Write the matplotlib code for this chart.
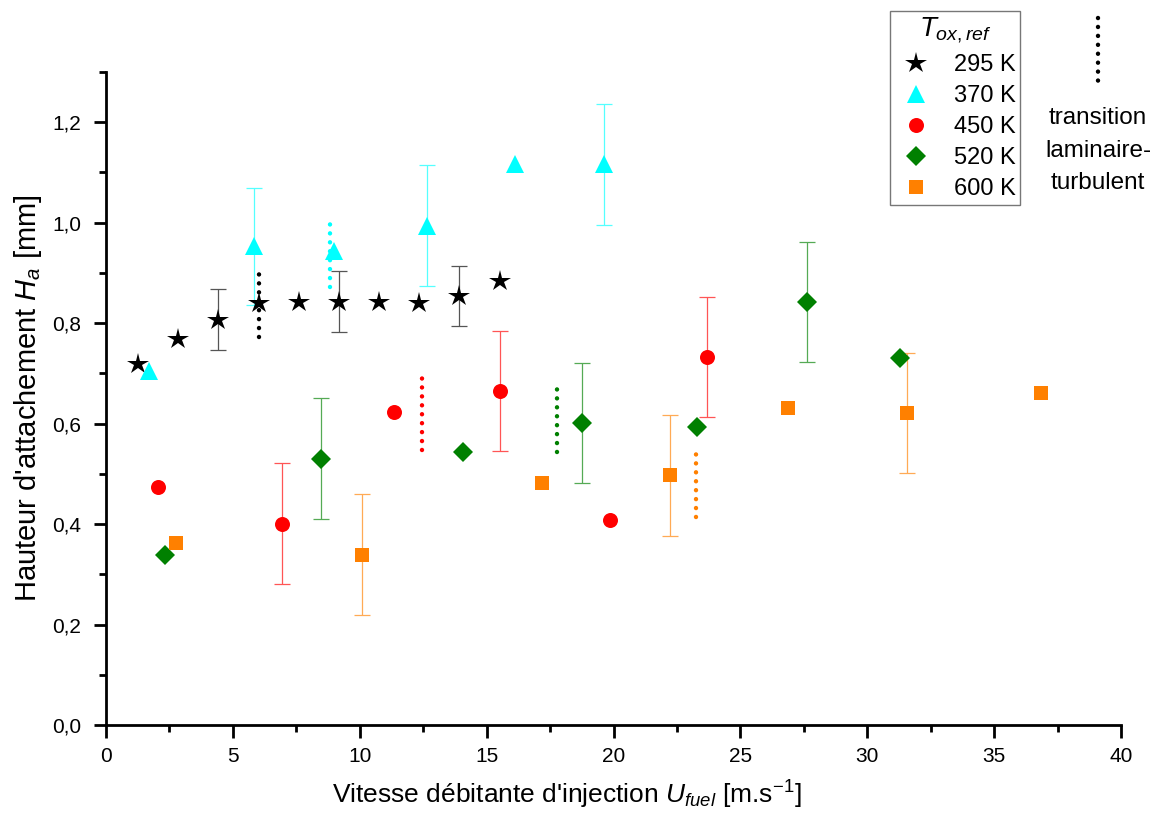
import numpy as np
import matplotlib
matplotlib.use("Agg")
import matplotlib.pyplot as plt
from matplotlib.lines import Line2D
from matplotlib.ticker import MultipleLocator, FuncFormatter

plt.rcParams['font.family'] = ['Liberation Sans', 'DejaVu Sans']
plt.rcParams['mathtext.fontset'] = 'custom'
plt.rcParams['mathtext.rm'] = 'Liberation Sans'
plt.rcParams['mathtext.it'] = 'Liberation Sans:italic'
plt.rcParams['mathtext.bf'] = 'Liberation Sans:bold'

# ---- data ----
labels = ["295 K", "370 K", "450 K", "520 K", "600 K"]

x_295 = [1.26, 2.84, 4.41, 6.02, 7.59, 9.18, 10.77, 12.35, 13.92, 15.51]
y_295 = [0.719, 0.769, 0.807, 0.840, 0.843, 0.843, 0.842, 0.841, 0.854, 0.883]
e_295 = [0, 0, 0.06, 0, 0, 0.06, 0, 0, 0.06, 0]

x_370 = [1.71, 5.83, 8.99, 12.65, 16.12, 19.63]
y_370 = [0.705, 0.953, 0.944, 0.994, 1.116, 1.116]
e_370 = [0, 0.117, 0, 0.12, 0, 0.12]

x_450 = [2.05, 6.95, 11.36, 15.53, 19.85, 23.70]
y_450 = [0.473, 0.401, 0.624, 0.665, 0.409, 0.733]
e_450 = [0, 0.12, 0, 0.12, 0, 0.12]

x_520 = [2.31, 8.46, 14.07, 18.76, 23.30, 27.63, 31.29]
y_520 = [0.338, 0.530, 0.544, 0.601, 0.593, 0.842, 0.731]
e_520 = [0, 0.12, 0, 0.12, 0, 0.12, 0]

x_600 = [2.75, 10.07, 17.17, 22.21, 26.86, 31.56, 36.86]
y_600 = [0.363, 0.339, 0.482, 0.497, 0.631, 0.621, 0.660]
e_600 = [0, 0.12, 0, 0.12, 0, 0.12, 0]

trans_x = [6.02, 8.83, 12.47, 17.76, 23.26]
trans_lo = [0.772, 0.871, 0.548, 0.544, 0.415]
trans_hi = [0.912, 1.011, 0.691, 0.683, 0.553]

# ---- style ----
series = [
    (x_295, y_295, e_295, '*', 16.0, '#000000', '#555555'),
    (x_370, y_370, e_370, '^', 13.0, '#00ffff', '#55ffff'),
    (x_450, y_450, e_450, 'o', 10.8, '#ff0000', '#ff5555'),
    (x_520, y_520, e_520, 'D', 9.7, '#008000', '#55aa55'),
    (x_600, y_600, e_600, 's', 9.7, '#ff8000', '#ffaa55'),
]
trans_colors = ['#000000', '#00ffff', '#ff0000', '#008000', '#ff8000']

fig = plt.figure(figsize=(11.6, 8.17), dpi=100)
ax = fig.add_axes([106/1160, 1-725/817, (1121-106)/1160, (725-72)/817])

handles = []
for (xs, ys, es, m, ms, c, ec), lab in zip(series, labels):
    xs = np.array(xs); ys = np.array(ys); es = np.array(es)
    mask = es > 0
    ax.errorbar(xs[mask], ys[mask], yerr=es[mask], fmt='none', ecolor=ec,
                elinewidth=0.9, capsize=6, capthick=0.9, zorder=2)
    h, = ax.plot(xs, ys, linestyle='none', marker=m, markersize=ms,
                 color=c, markeredgewidth=0, zorder=3, label=lab)
    handles.append(h)

for tx, lo, hi, c in zip(trans_x, trans_lo, trans_hi, trans_colors):
    ax.plot([tx, tx], [lo, hi], color=c, lw=3.2, linestyle=(0, (0.01, 2.0)),
            dash_capstyle='round', zorder=4)

ax.set_xlim(0, 40)
ax.set_ylim(0, 1.3)
ax.xaxis.set_major_locator(MultipleLocator(5))
ax.xaxis.set_minor_locator(MultipleLocator(2.5))
ax.yaxis.set_major_locator(MultipleLocator(0.2))
ax.yaxis.set_minor_locator(MultipleLocator(0.1))
ax.yaxis.set_major_formatter(FuncFormatter(lambda v, p: f"{v:.1f}".replace('.', ',')))
ax.spines['top'].set_visible(False)
ax.spines['right'].set_visible(False)
for s in ('left', 'bottom'):
    ax.spines[s].set_linewidth(2)
ax.tick_params(which='major', direction='out', length=9, width=2, labelsize=15, pad=7)
ax.tick_params(axis='y', which='major', pad=9)
ax.tick_params(which='minor', direction='out', length=5, width=2)

ax.set_xlabel("Vitesse débitante d'injection $U_{fuel}$ [m.s$^{-1}$]", fontsize=19)
ax.xaxis.set_label_coords((567-106)/1015, -(779-725)/653)
ax.set_ylabel("Hauteur d'attachement $H_a$ [mm]", fontsize=21, labelpad=6)

leg = fig.legend(handles=handles, labels=labels, loc='upper left',
                 bbox_to_anchor=(890/1160, 1-11/817), borderaxespad=0,
                 title="$T_{ox,ref}$", title_fontsize=20, fontsize=17,
                 frameon=True, fancybox=False, edgecolor='#555555',
                 handletextpad=0.7, labelspacing=0.38, borderpad=0.2,
                 handlelength=1.8, markerscale=1.0)
leg.get_frame().set_linewidth(1.0)

# transition annotation outside axes
fig.add_artist(Line2D([1098/1160, 1098/1160], [1-18/817, 1-88/817],
                      transform=fig.transFigure, color='black', lw=3.2,
                      linestyle=(0, (0.01, 2.0)), dash_capstyle='round'))
fig.text(1098/1160, 1-118/817, "transition", ha='center', va='center', fontsize=17.5)
fig.text(1098/1160, 1-151/817, "laminaire-", ha='center', va='center', fontsize=17.5)
fig.text(1098/1160, 1-183/817, "turbulent", ha='center', va='center', fontsize=17.5)

fig.savefig("out.png", dpi=100)
